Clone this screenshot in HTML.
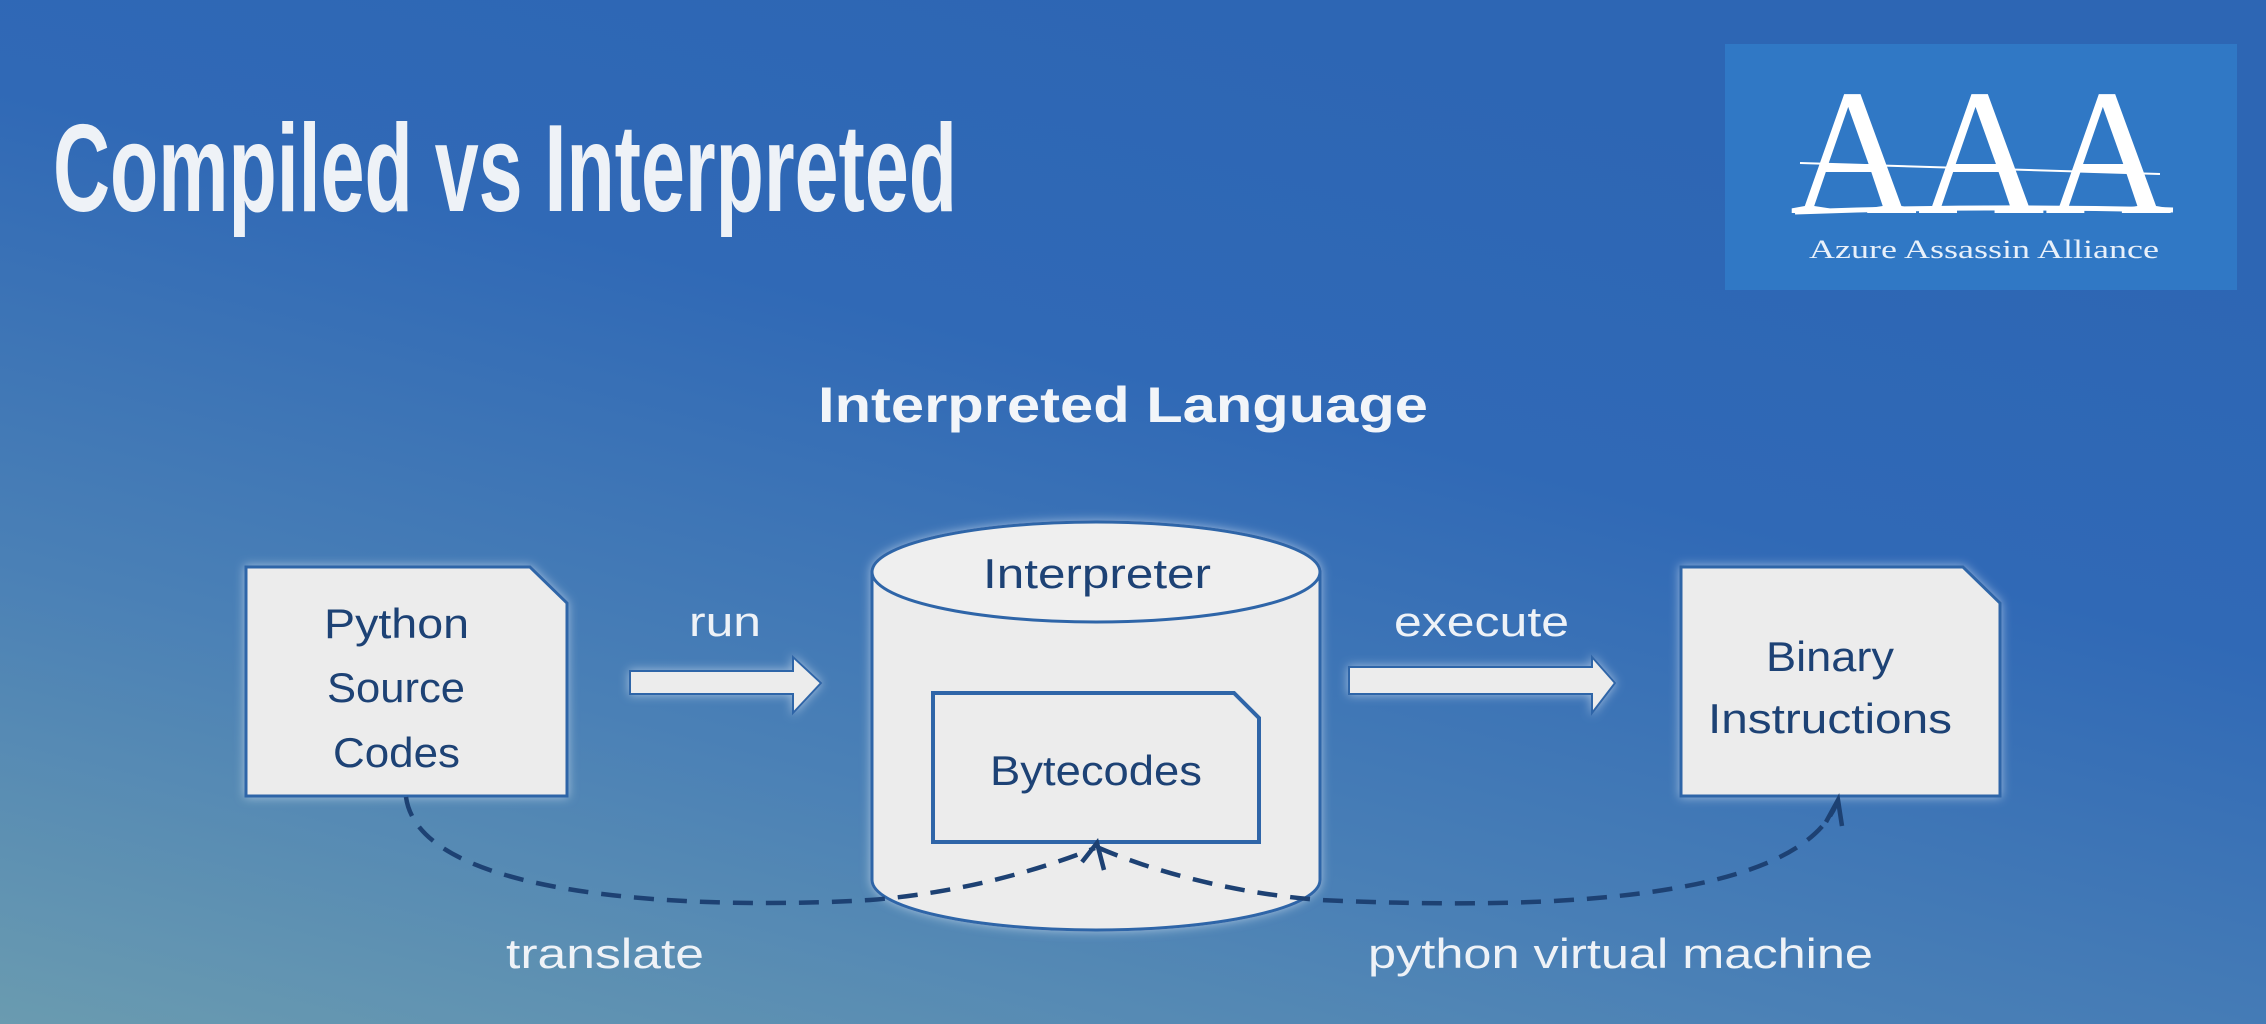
<!DOCTYPE html>
<html><head><meta charset="utf-8"><style>
html,body{margin:0;padding:0;width:2266px;height:1024px;overflow:hidden}
svg{display:block}
</style></head><body>
<svg width="2266" height="1024" viewBox="0 0 2266 1024" xmlns="http://www.w3.org/2000/svg">
<defs>
<linearGradient id="bg" x1="0" y1="1" x2="0.55" y2="0">
<stop offset="0" stop-color="#6a9bb0"/>
<stop offset="0.35" stop-color="#4a80b6"/>
<stop offset="0.7" stop-color="#3069b6"/>
<stop offset="1" stop-color="#2d66b4"/>
</linearGradient>
<filter id="glow" x="-20%" y="-20%" width="140%" height="140%">
<feGaussianBlur in="SourceAlpha" stdDeviation="5" result="b"/>
<feFlood flood-color="#dfeaf7" flood-opacity="0.6"/>
<feComposite in2="b" operator="in" result="g"/>
<feMerge><feMergeNode in="g"/><feMergeNode in="SourceGraphic"/></feMerge>
</filter>
</defs>
<rect width="2266" height="1024" fill="url(#bg)"/>

<text x="53" y="211" font-family="Liberation Sans, sans-serif" font-weight="bold" font-size="124" fill="#eef2f7" textLength="904" lengthAdjust="spacingAndGlyphs">Compiled vs Interpreted</text>

<!-- logo -->
<rect x="1725" y="44" width="512" height="246" fill="#3078c5"/>
<text x="1790" y="213" font-family="Liberation Serif, serif" font-size="180" fill="#ffffff" textLength="382" lengthAdjust="spacingAndGlyphs">AAA</text>
<path d="M1800 163 L2160 174" stroke="#ffffff" stroke-width="2"/>
<path d="M1795 212 Q1980 205 2173 210" stroke="#ffffff" stroke-width="5" fill="none"/>
<text x="1809" y="258" font-family="Liberation Serif, serif" font-size="26" fill="#e8f0fa" textLength="350" lengthAdjust="spacingAndGlyphs">Azure Assassin Alliance</text>

<text x="818" y="422" font-family="Liberation Sans, sans-serif" font-weight="bold" font-size="50" fill="#f2f5f9" textLength="610" lengthAdjust="spacingAndGlyphs">Interpreted Language</text>

<g filter="url(#glow)">
<path d="M246 567 L530 567 L567 603 L567 796 L246 796 Z" fill="#ececec" stroke="#2f65a8" stroke-width="3"/>
<path d="M630 671 L793 671 L793 657 L821 683 L793 713 L793 694 L630 694 Z" fill="#ececec" stroke="#2f65a8" stroke-width="2"/>
<path d="M872 572 L872 880 A224 50 0 0 0 1320 880 L1320 572 Z" fill="#ececec" stroke="#2f65a8" stroke-width="3"/>
<ellipse cx="1096" cy="572" rx="224" ry="50" fill="#efefef" stroke="#2f65a8" stroke-width="3"/>
<path d="M1349 667 L1592 667 L1592 657 L1615 683 L1592 713 L1592 694 L1349 694 Z" fill="#ececec" stroke="#2f65a8" stroke-width="2"/>
<path d="M1681 567 L1963 567 L2000 603 L2000 796 L1681 796 Z" fill="#ececec" stroke="#2f65a8" stroke-width="3"/>
</g>
<path d="M933 693 L1234 693 L1259 718 L1259 842 L933 842 Z" fill="#ececec" stroke="#2f65a8" stroke-width="4"/>

<path d="M406 797 C420 900 700 910 870 900 C960 893 1040 870 1095 848" fill="none" stroke="#1d4173" stroke-width="4.5" stroke-dasharray="20 13"/>
<path d="M1099 848 C1150 870 1230 893 1320 900 C1500 908 1790 910 1836 805" fill="none" stroke="#1d4173" stroke-width="4.5" stroke-dasharray="20 13"/>
<path d="M1082 862 L1097 843 L1104 870" fill="none" stroke="#1d4173" stroke-width="4.5"/>
<path d="M1826 822 L1838 800 L1842 826" fill="none" stroke="#1d4173" stroke-width="4.5"/>

<g font-family="Liberation Sans, sans-serif" fill="#1d4275" font-size="42">
<text x="324" y="638" textLength="145" lengthAdjust="spacingAndGlyphs">Python</text>
<text x="327" y="702" textLength="138" lengthAdjust="spacingAndGlyphs">Source</text>
<text x="333" y="767" textLength="127" lengthAdjust="spacingAndGlyphs">Codes</text>
<text x="983" y="588" textLength="228" lengthAdjust="spacingAndGlyphs">Interpreter</text>
<text x="990" y="785" textLength="212" lengthAdjust="spacingAndGlyphs">Bytecodes</text>
<text x="1766" y="671" textLength="128" lengthAdjust="spacingAndGlyphs">Binary</text>
<text x="1708" y="733" textLength="244" lengthAdjust="spacingAndGlyphs">Instructions</text>
</g>
<g font-family="Liberation Sans, sans-serif" fill="#eef2f7" font-size="42">
<text x="689" y="636" textLength="72" lengthAdjust="spacingAndGlyphs">run</text>
<text x="1394" y="636" textLength="175" lengthAdjust="spacingAndGlyphs">execute</text>
<text x="506" y="968" textLength="198" lengthAdjust="spacingAndGlyphs">translate</text>
<text x="1368" y="968" textLength="505" lengthAdjust="spacingAndGlyphs">python virtual machine</text>
</g>
</svg>
</body></html>
